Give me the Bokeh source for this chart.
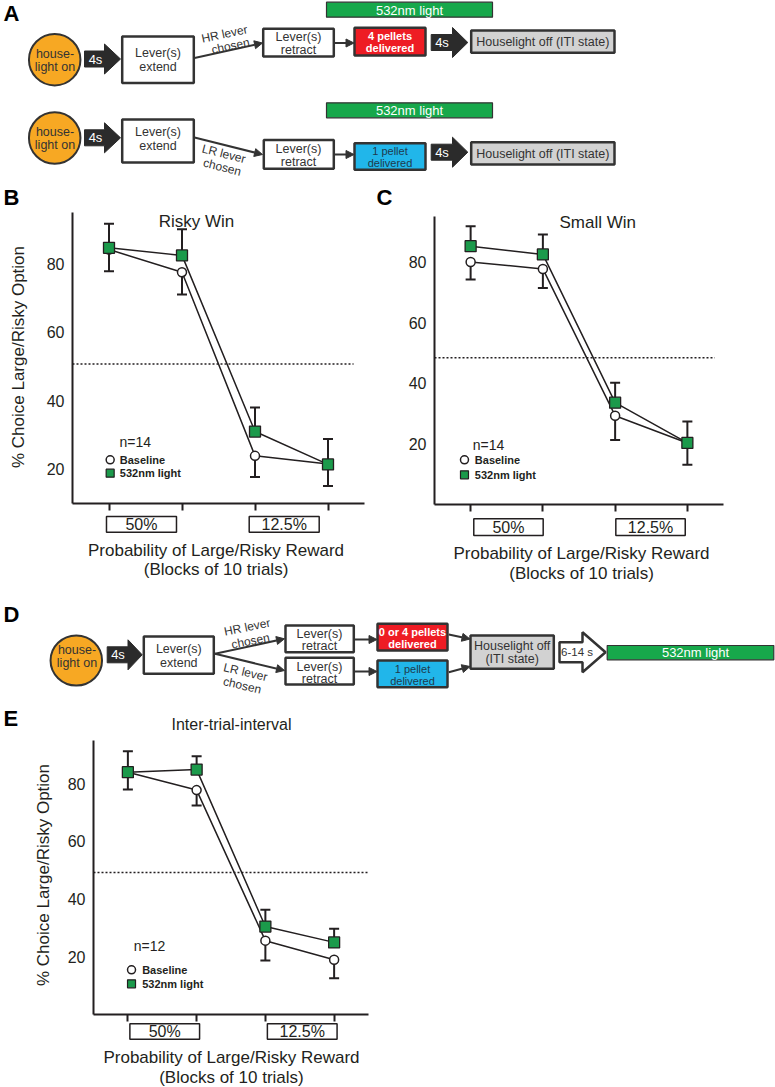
from bokeh.plotting import figure
from bokeh.models import (Range1d, FixedTicker, Whisker, TeeHead,
                          ColumnDataSource, Arrow, NormalHead)
from bokeh.layouts import column, row
from bokeh.embed import file_html
from bokeh.resources import INLINE
from bokeh.core.properties import value

FONT = "Liberation Sans"
INK = "#231f20"
DIAG_INK = "#333333"
MARK_GREEN = "#1b9a4b"
BAR_GREEN = "#17a84b"
ORANGE = "#f7a823"
RED = "#ee1c24"
BLUE = "#21b6ea"
GRAY = "#d2d2d2"
DARK = "#2b2b2b"

# ---------------- data ----------------
blocks = [1, 2, 3, 4]
prob_labels = ["50%", "12.5%"]
legend_labels = ["Baseline", "532nm light"]
y_ticks = [20, 40, 60, 80]
x_caption = ["Probability of Large/Risky Reward", "(Blocks of 10 trials)"]
y_caption = "% Choice Large/Risky Option"
panel_titles = ["Risky Win", "Small Win", "Inter-trial-interval"]

risky_base = [84.1, 77.5, 23.9, 21.5]
risky_base_sem = [6.3, 6.5, 6.2, 6.4]
risky_light = [84.6, 82.4, 31.0, 21.4]
risky_light_sem = [7.0, 7.6, 7.0, 7.4]
risky_ref = 50.7

small_base = [80.0, 77.7, 29.3, 20.3]
small_base_sem = [5.8, 6.3, 8.0, 7.2]
small_light = [85.2, 82.5, 33.6, 20.3]
small_light_sem = [6.6, 6.6, 6.6, 7.1]
small_ref = 48.4

iti_base = [84.0, 77.8, 25.6, 19.0]
iti_base_sem = [6.0, 5.3, 6.9, 6.4]
iti_light = [84.0, 84.9, 30.5, 25.0]
iti_light_sem = [7.3, 4.6, 5.8, 4.7]
iti_ref = 49.2


# ---------------- helpers ----------------
def txt(p, x, y, s, size="12.5px", color=DIAG_INK, style="normal", angle=0.0,
        align="center", baseline="middle"):
    p.text(x=[x], y=[y], text=[s], angle=angle, text_font=value(FONT),
           text_font_size=size, text_color=color, text_font_style=style,
           text_align=align, text_baseline=baseline)


def letter(p, x, y, s):
    txt(p, x, y, s, size="22px", style="bold", color="black", align="left",
        baseline="middle")


def quad(p, l, r, t, b, fill, lw=2.5, lc=DIAG_INK):
    p.quad(left=[l], right=[r], top=[t], bottom=[b], fill_color=fill,
           line_color=lc, line_width=lw)


def block_arrow(p, x0, x1, yc, hb, hh, xh, fill=DARK, lc=DARK, lw=1.0):
    xs = [x0, xh, xh, x1, xh, xh, x0]
    ys = [yc - hb, yc - hb, yc - hh, yc, yc + hh, yc + hb, yc + hb]
    p.patch(xs, ys, fill_color=fill, line_color=lc, line_width=lw)


def thin_arrow(p, x0, y0, x1, y1):
    p.add_layout(Arrow(end=NormalHead(size=8, fill_color=DIAG_INK, line_color=DIAG_INK,
                                      line_width=1),
                       x_start=x0, y_start=y0, x_end=x1, y_end=y1,
                       line_color=DIAG_INK, line_width=2))


def circle_node(p, x, y, w, h):
    p.ellipse(x=[x], y=[y], width=w, height=h, fill_color=ORANGE,
              line_color=DIAG_INK, line_width=2)


def make_diagram(width, height, y_top):
    p = figure(width=width, height=height, x_range=Range1d(0, width),
               y_range=Range1d(y_top + height, y_top), x_axis_type=None,
               y_axis_type=None, min_border=0, min_border_left=0, min_border_right=0,
               min_border_top=0, min_border_bottom=0,
               toolbar_location=None, output_backend="svg")
    p.outline_line_color = None
    return p


def make_chart(width, height, border, yr, ybounds, base, base_sem, light, light_sem,
               ref, ref_end, n_text, leg, title=None, title_xy=None,
               ylabel=None, ylabel_standoff=14):
    l, r, t, b = border
    p = figure(width=width, height=height, x_range=Range1d(0.5, 4.5),
               y_range=Range1d(*yr), toolbar_location=None, output_backend="svg",
               min_border_left=l, min_border_right=r, min_border_top=t,
               min_border_bottom=b)
    p.grid.visible = False
    p.outline_line_color = None
    xa = p.xaxis[0]
    ya = p.yaxis[0]
    for ax in (xa, ya):
        ax.axis_line_width = 2
        ax.axis_line_color = INK
        ax.major_tick_in = 0
        ax.minor_tick_in = 0
    # x axis: tick marks only (blocks), no tick labels
    xa.ticker = FixedTicker(ticks=[], minor_ticks=blocks)
    xa.major_tick_out = 0
    xa.minor_tick_out = 7
    xa.minor_tick_line_width = 2
    xa.minor_tick_line_color = INK
    xa.major_label_standoff = 0
    # y axis
    ya.ticker = FixedTicker(ticks=y_ticks)
    ya.bounds = ybounds
    ya.major_tick_out = 0
    ya.minor_tick_out = 0
    ya.major_label_standoff = 8
    ya.major_label_text_font = FONT
    ya.major_label_text_font_size = "16px"
    ya.major_label_text_color = INK
    if ylabel:
        ya.axis_label = ylabel
        ya.axis_label_text_font = FONT
        ya.axis_label_text_font_size = "17px"
        ya.axis_label_text_font_style = "normal"
        ya.axis_label_text_color = INK
        ya.axis_label_standoff = ylabel_standoff

    p.line([0.5, ref_end], [ref, ref], line_dash="2 2", line_width=1.5, line_color=INK)
    p.line(blocks, base, line_color=INK, line_width=1.5)
    p.line(blocks, light, line_color=INK, line_width=1.5)
    # error bars: light drawn upward, baseline drawn downward
    src_l = ColumnDataSource(dict(x=blocks, lo=light,
                                  hi=[v + s for v, s in zip(light, light_sem)]))
    src_b = ColumnDataSource(dict(x=blocks, hi=base,
                                  lo=[v - s for v, s in zip(base, base_sem)]))
    p.add_layout(Whisker(source=src_l, base="x", lower="lo", upper="hi",
                         line_color=INK, line_width=2, lower_head=None,
                         upper_head=TeeHead(size=10, line_color=INK, line_width=2)))
    p.add_layout(Whisker(source=src_b, base="x", lower="lo", upper="hi",
                         line_color=INK, line_width=2, upper_head=None,
                         lower_head=TeeHead(size=10, line_color=INK, line_width=2)))
    p.scatter(blocks, base, marker="circle", size=9, fill_color="white",
              line_color=INK, line_width=1.5)
    p.scatter(blocks, light, marker="square", size=11, fill_color=MARK_GREEN,
              line_color=INK, line_width=1.3)

    nx, ny, mx, my_b, my_l, tx = leg
    p.text([nx], [ny], text=[n_text], text_font=value(FONT), text_font_size="14px",
           text_color=INK, text_align="left", text_baseline="middle")
    p.scatter([mx], [my_b], marker="circle", size=8, fill_color="white",
              line_color=INK, line_width=1.5)
    p.scatter([mx], [my_l], marker="square", size=8, fill_color=MARK_GREEN,
              line_color=INK, line_width=1.2)
    p.text([tx, tx], [my_b, my_l], text=legend_labels, text_font=value(FONT),
           text_font_size="11px", text_font_style="bold", text_color=INK,
           text_align="left", text_baseline="middle")
    if title:
        p.text([title_xy[0]], [title_xy[1]], text=[title], text_font=value(FONT),
               text_font_size="17px", text_color=INK, text_align="center",
               text_baseline="middle")
    return p


def make_caption(width, height, border_lr, y_top, box_x, box_y, box_w, box_h,
                 cap_x, cap_y):
    l, r = border_lr
    p = figure(width=width, height=height, x_range=Range1d(0.5, 4.5),
               y_range=Range1d(y_top + height, y_top), x_axis_type=None,
               y_axis_type=None, min_border_left=l, min_border_right=r,
               min_border_top=0, min_border_bottom=0, toolbar_location=None,
               output_backend="svg")
    p.outline_line_color = None
    p.rect(box_x, [box_y, box_y], width=box_w, height=box_h, width_units="screen",
           fill_color="white", line_color=INK, line_width=1.5)
    p.text(box_x, [box_y, box_y], text=prob_labels, text_font=value(FONT),
           text_font_size="16px", text_color=INK, text_align="center",
           text_baseline="middle")
    p.text([cap_x, cap_x], cap_y, text=x_caption, text_font=value(FONT),
           text_font_size="17px", text_color=INK, text_align="center",
           text_baseline="middle")
    return p


# ---------------- panel A (page y 0..210) ----------------
pa = make_diagram(775, 210, 0)
letter(pa, 3, 13, "A")
# row 1 (HR)
quad(pa, 326, 492, 1.7, 16.7, BAR_GREEN, lw=1.2)
txt(pa, 409, 9.5, "532nm light", size="13px", color="white")
circle_node(pa, 54.2, 59.2, 51.5, 51.5)
txt(pa, 54.5, 53, "house-")
txt(pa, 54.5, 66, "light on")
block_arrow(pa, 84, 120, 58.5, 8, 15, 104)
txt(pa, 95, 58.5, "4s", size="13px", color="white")
quad(pa, 121.7, 193.3, 36, 82.5, "white")
txt(pa, 157.5, 52.5, "Lever(s)")
txt(pa, 157.5, 66, "extend")
thin_arrow(pa, 194, 57.5, 262, 42.5)
txt(pa, 224, 33.5, "HR lever", size="12px", angle=0.21)
txt(pa, 230, 45.5, "chosen", size="12px", angle=0.21)
quad(pa, 262.7, 333.3, 28.3, 56, "white")
txt(pa, 298, 36.5, "Lever(s)")
txt(pa, 298, 49.5, "retract")
thin_arrow(pa, 334.5, 42.5, 353.5, 42.5)
quad(pa, 354, 425, 27.3, 55, RED)
txt(pa, 389.5, 35.5, "4 pellets", size="11px", color="white", style="bold")
txt(pa, 389.5, 47, "delivered", size="11px", color="white", style="bold")
block_arrow(pa, 430.7, 467.3, 42, 8, 15, 452)
txt(pa, 441.5, 42, "4s", size="13px", color="white")
quad(pa, 470.7, 614, 30, 52.3, GRAY)
txt(pa, 542.3, 41.2, "Houselight off (ITI state)", size="12.5px")
# row 2 (LR)
quad(pa, 326, 492, 102.3, 117.3, BAR_GREEN, lw=1.2)
txt(pa, 409, 110, "532nm light", size="13px", color="white")
circle_node(pa, 54.2, 137.5, 51.5, 51.5)
txt(pa, 54.5, 131.5, "house-")
txt(pa, 54.5, 144.5, "light on")
block_arrow(pa, 84, 120, 137.3, 8, 15, 104)
txt(pa, 95, 137.3, "4s", size="13px", color="white")
quad(pa, 121.7, 193.3, 119, 162, "white")
txt(pa, 157.5, 131.5, "Lever(s)")
txt(pa, 157.5, 145, "extend")
thin_arrow(pa, 194, 137, 262, 154)
txt(pa, 223.3, 153.3, "LR lever", size="12px", angle=-0.25)
txt(pa, 221.7, 166.7, "chosen", size="12px", angle=-0.25)
quad(pa, 263.3, 333.3, 139.5, 168.3, "white")
txt(pa, 298, 148, "Lever(s)")
txt(pa, 298, 161.5, "retract")
thin_arrow(pa, 334.5, 154, 353.5, 154)
quad(pa, 354, 425, 142.7, 169.3, BLUE)
txt(pa, 389.5, 150.7, "1 pellet", size="11px", color="#1f3a4d")
txt(pa, 389.5, 162.3, "delivered", size="11px", color="#1f3a4d")
block_arrow(pa, 430.7, 467.3, 151.7, 8, 15, 452)
txt(pa, 441.5, 151.7, "4s", size="13px", color="white")
quad(pa, 470.7, 614, 141.7, 164, GRAY)
txt(pa, 542.3, 153, "Houselight off (ITI state)", size="12.5px")
# panel letters of the charts below
letter(pa, 3, 196.7, "B")
letter(pa, 376, 196.7, "C")

# ---------------- panels B, C (page y 210..600) ----------------
pb = make_chart(385, 302, (72, 21, 0, 9), (10, 95.5), (10, 95), risky_base,
                risky_base_sem, risky_light, risky_light_sem, risky_ref, 4.35, "n=14",
                (1.144, 27.9, 1.016, 22.76, 18.85, 1.148),
                title=panel_titles[0], title_xy=(2.199, 92.43),
                ylabel=y_caption, ylabel_standoff=16)
cb = make_caption(385, 88, (72, 21), 512, [1.445, 3.40], 523.8, 70, 15.7, 2.466,
                  [550, 569.3])

pc = make_chart(390, 302, (49, 52, 0, 8), (0, 96.98), (0, 95), small_base,
                small_base_sem, small_light, small_light_sem, small_ref, 4.38, "n=14",
                (1.03, 19.7, 0.915, 14.75, 9.8, 1.058),
                title=panel_titles[1], title_xy=(2.76, 92.9))
cc = make_caption(390, 88, (49, 52), 512, [1.524, 3.49], 526.7, 69.4, 16.7, 2.535,
                  [552.7, 572.7])

# ---------------- panel D (page y 600..735) ----------------
pd_ = make_diagram(775, 135, 600)
letter(pd_, 3, 614, "D")
circle_node(pd_, 75.8, 660, 51.5, 50)
txt(pd_, 76.5, 649, "house-")
txt(pd_, 76.5, 662, "light on")
block_arrow(pd_, 106.7, 141.7, 654.3, 8, 15, 127.5)
txt(pd_, 117.5, 654.3, "4s", size="13px", color="white")
quad(pd_, 143.3, 213.3, 636, 673.3, "white")
txt(pd_, 178.3, 648.5, "Lever(s)")
txt(pd_, 178.3, 662, "extend")
thin_arrow(pd_, 214.5, 653.3, 284, 638.3)
thin_arrow(pd_, 214.5, 653.3, 284, 670)
txt(pd_, 246.7, 626.7, "HR lever", size="12px", angle=0.2)
txt(pd_, 250, 640.5, "chosen", size="12px", angle=0.2)
txt(pd_, 245, 671.7, "LR lever", size="12px", angle=-0.23)
txt(pd_, 241.7, 685, "chosen", size="12px", angle=-0.23)
quad(pd_, 285, 353.3, 625, 651.7, "white")
txt(pd_, 319, 633.3, "Lever(s)")
txt(pd_, 319, 645.5, "retract")
quad(pd_, 285, 353.3, 657.3, 684, "white")
txt(pd_, 319, 666, "Lever(s)")
txt(pd_, 319, 678.5, "retract")
thin_arrow(pd_, 354, 639, 376.5, 639)
thin_arrow(pd_, 354, 671, 376.5, 671)
quad(pd_, 377, 447, 623.3, 650, RED)
txt(pd_, 412, 631.5, "0 or 4 pellets", size="11px", color="white", style="bold")
txt(pd_, 412, 643, "delivered", size="11px", color="white", style="bold")
quad(pd_, 377, 447, 660, 686.7, BLUE)
txt(pd_, 412, 668, "1 pellet", size="11px", color="#1f3a4d")
txt(pd_, 412, 680, "delivered", size="11px", color="#1f3a4d")
thin_arrow(pd_, 448.3, 634, 469.5, 638.5)
thin_arrow(pd_, 448.3, 671.7, 469.5, 666)
quad(pd_, 470, 553.3, 635, 668.3, GRAY)
txt(pd_, 511.7, 645, "Houselight off", size="12.5px")
txt(pd_, 511.7, 658.5, "(ITI state)", size="12.5px")
block_arrow(pd_, 559, 605, 651.7, 10, 20, 582, fill="white", lc=DIAG_INK, lw=2.5)
txt(pd_, 576.5, 651.7, "6-14 s", size="11.5px")
quad(pd_, 606.7, 773.3, 645, 659.3, BAR_GREEN, lw=1.2)
txt(pd_, 695, 652, "532nm light", size="13px", color="white")
# panel E letter and title
letter(pd_, 3, 717.5, "E")
txt(pd_, 231, 724.3, panel_titles[2], size="16px", color=INK)

# ---------------- panel E (page y 735..1087) ----------------
pe = make_chart(390, 287, (93, 22, 0, 8), (0, 96.73), (0, 95), iti_base,
                iti_base_sem, iti_light, iti_light_sem, iti_ref, 4.5, "n=12",
                (1.086, 23.9, 1.053, 15.5, 10.65, 1.208),
                ylabel=y_caption, ylabel_standoff=12)
ce = make_caption(390, 65, (93, 22), 1022, [1.536, 3.536], 1031, 69.7, 15.7, 2.507,
                  [1056.7, 1076.5])

layout = column(
    pa,
    row(column(pb, cb), column(pc, cc)),
    pd_,
    column(pe, ce),
)

open("out.html", "w").write(file_html(layout, INLINE, title="Figure"))
